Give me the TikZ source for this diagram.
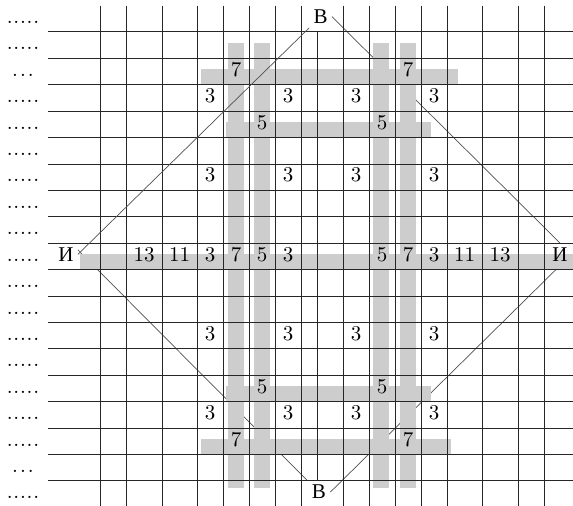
\documentclass[tikz,border=0pt]{standalone}
\usepackage{fontspec}
\newfontfamily\cyr{Liberation Serif}
\definecolor{surligne}{RGB}{205,205,205}
\definecolor{trait}{RGB}{80,80,80}
\usepackage{tikz}
\usetikzlibrary{backgrounds}
\newcommand\cinqpoints{.\kern.4pt.\kern.4pt.\kern.4pt.\kern.4pt.}
\newcommand\troispoints{.\kern1pt.\kern1pt.}

\begin{document}
\begin{tikzpicture}[x=0.5pt,y=-0.5pt,
		txt/.style={anchor=base,inner sep=2pt,font=\fontsize{10.5}{12}\selectfont},
		grille/.style={black!85,line width=0.5pt},
		diag/.style={trait,line width=0.35pt}]
	\useasboundingbox (0,0) rectangle (573,506);
	% bandes grises
	\foreach \x in {228,254,373,400}
		\fill[surligne] (\x,43) rectangle (\x+16,488);
	\fill[surligne] (201,68.8) rectangle (458,84.8);
	\fill[surligne] (226,121.6) rectangle (431,137.6);
	\fill[surligne] (80,253.7) rectangle (573,269.7);
	\fill[surligne] (226,385.7) rectangle (431,401.7);
	\fill[surligne] (201,438.6) rectangle (451,454.6);
	% grille
	\foreach \k in {0,...,17}
		\draw[grille] (48,32+26.41*\k) -- (573,32+26.41*\k);
	\foreach \x in {100,126,162,197,223,249,275,301,343,369,395,421,447,482,518,544}
		\draw[grille] (\x,5.6) -- (\x,506);
	\draw[grille] (317,32) -- (317,481.2);
	% lignes
	\foreach \r in {0,1,3,4,...,16,18}
		\node[txt] (p\r) at (23,23.5+26.41*\r) {\cinqpoints};
	\foreach \r in {2,17}
		\node[txt] (p\r) at (23,23.5+26.41*\r) {\troispoints};
	\foreach \y [count=\j] in {76.3,446.1}{
		\node[txt] (sept\j a) at (236,\y) {7};
		\node[txt] (sept\j b) at (408,\y) {7};}
	\foreach \y [count=\j] in {129.1,393.2}{
		\node[txt] (cinq\j a) at (262,\y) {5};
		\node[txt] (cinq\j b) at (382,\y) {5};}
	\foreach \y [count=\j] in {102.7,182,340.4,419.7}
		\foreach \x [count=\i] in {210,288,356,434}
			\node[txt] (trois\j-\i) at (\x,\y) {3};
	\foreach \x/\v [count=\i] in {144/13,179.5/11,210/3,236/7,262/5,288/3,382/5,408/7,434/3,464.5/11,500/13}
		\node[txt] (m\i) at (\x,261.2) {\v};
	\node[txt,anchor=base west] (Igauche) at (54,261.2) {\cyr И};
	\node[txt,anchor=base west] (Idroite) at (548,261.2) {\cyr И};
	\node[txt] (Bhaut) at (320.5,23.5) {\cyr В};
	\node[txt] (Bbas) at (319,498.9) {\cyr В};
	% losange
	\draw[diag] (Bhaut.south west) -- (Igauche.east);
	\begin{pgfonlayer}{background}
		\draw[diag] (Bhaut.east) -- (Idroite.north);
		\draw[diag] (Idroite.south) -- (Bbas.east);
		\draw[diag] (Igauche.20) -- (Bbas.north west);
	\end{pgfonlayer}
\end{tikzpicture}
\end{document}
